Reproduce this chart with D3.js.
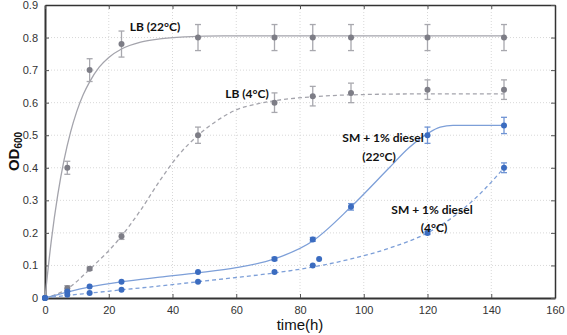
<!DOCTYPE html>
<html>
<head>
<meta charset="utf-8">
<script src="https://cdn.jsdelivr.net/npm/d3@7"></script>
<style>
  body { margin: 0; background: #fff; }
  text { font-family: "Liberation Sans", Arial, sans-serif; }
  text.note { font-family: Lato, "Open Sans", sans-serif; font-weight: bold; }
</style>
</head>
<body>
<div class="chart"></div>
<script>
// measured points (time in h, OD600)
var times = [0, 7, 14, 24, 48, 72, 84, 96, 120, 144];
var lb22 = [0, 0.40, 0.70, 0.78, 0.80, 0.80, 0.80, 0.80, 0.80, 0.80];
var lb22Err = [0, 0.02, 0.035, 0.04, 0.04, 0.04, 0.04, 0.04, 0.04, 0.04];
var lb4 = [0, 0.03, 0.09, 0.19, 0.50, 0.60, 0.62, 0.63, 0.64, 0.64];
var lb4Err = [0, 0.008, 0.005, 0.01, 0.025, 0.03, 0.03, 0.03, 0.03, 0.03];
var sm22 = [0, 0.02, 0.035, 0.05, 0.08, 0.12, 0.18, 0.28, 0.50, 0.53];
var sm22Err = [0, 0.004, 0.003, 0.003, 0.003, 0.005, 0.006, 0.01, 0.025, 0.025];
var sm4Times = [0, 7, 14, 24, 48, 72, 84, 86, 120, 144];
var sm4 = [0, 0.01, 0.015, 0.025, 0.05, 0.08, 0.10, 0.12, 0.20, 0.40];
var sm4Err = [0, 0.003, 0.003, 0.003, 0.003, 0.003, 0.003, 0.003, 0.005, 0.015];

// fitted curves
var fitLb22T = [0, 2, 4, 6, 8, 10, 12, 14, 17, 20, 24, 30, 36, 44, 56, 80, 144];
var fitLb22 = [0, 0.178, 0.317, 0.425, 0.509, 0.574, 0.625, 0.664, 0.709, 0.739, 0.765, 0.786, 0.796, 0.802, 0.805, 0.805, 0.805];
var fitLb4T = [0, 7, 14, 24, 30, 36, 42, 48, 54, 60, 66, 72, 84, 96, 120, 144];
var fitLb4 = [0, 0.028, 0.088, 0.19, 0.27, 0.36, 0.44, 0.50, 0.545, 0.578, 0.595, 0.606, 0.618, 0.624, 0.627, 0.627];
var fitSm22T = [0, 7, 14, 24, 36, 48, 60, 72, 84, 96, 108, 114, 120, 124, 128, 144];
var fitSm22 = [0, 0.018, 0.034, 0.05, 0.064, 0.077, 0.093, 0.12, 0.175, 0.28, 0.40, 0.46, 0.505, 0.525, 0.53, 0.53];
var fitSm4T = [0, 7, 14, 24, 36, 48, 60, 72, 84, 96, 108, 120, 126, 132, 138, 144];
var fitSm4 = [0, 0.008, 0.015, 0.025, 0.037, 0.05, 0.063, 0.077, 0.095, 0.12, 0.153, 0.20, 0.235, 0.28, 0.335, 0.40];

var xTicks = [0, 20, 40, 60, 80, 100, 120, 140, 160];
var yTicks = [0, 0.1, 0.2, 0.3, 0.4, 0.5, 0.6, 0.7, 0.8, 0.9];

var W = 567, H = 335;
var m = {left: 45, right: 12, top: 5, bottom: 37};

var svg = d3.select(".chart").append("svg")
    .attr("width", W)
    .attr("height", H);

var x = d3.scaleLinear().domain([0, 160]).range([m.left, W - m.right]);
var y = d3.scaleLinear().domain([0, 0.9]).range([H - m.bottom, m.top]);

// grid
svg.append("g").selectAll("line").data(xTicks.slice(1, -1)).enter().append("line")
    .attr("x1", function(d) { return x(d); }).attr("x2", function(d) { return x(d); })
    .attr("y1", y(0)).attr("y2", y(0.9))
    .attr("stroke", "#d8d8d8").attr("stroke-dasharray", "1,2");
svg.append("g").selectAll("line").data(yTicks.slice(1, -1)).enter().append("line")
    .attr("y1", function(d) { return y(d); }).attr("y2", function(d) { return y(d); })
    .attr("x1", x(0)).attr("x2", x(160))
    .attr("stroke", "#d8d8d8").attr("stroke-dasharray", "1,2");

// axes (inward ticks)
var fmtY = function(d) { return d === 0 ? "0" : d3.format(".1f")(d); };
var axBottom = svg.append("g").attr("transform", "translate(0," + y(0) + ")")
    .call(d3.axisBottom(x).tickValues(xTicks).tickSizeInner(-4).tickSizeOuter(0).tickPadding(8));
var axLeft = svg.append("g").attr("transform", "translate(" + x(0) + ",0)")
    .call(d3.axisLeft(y).tickValues(yTicks).tickFormat(fmtY).tickSizeInner(-4).tickSizeOuter(0).tickPadding(7));
var axTop = svg.append("g").attr("transform", "translate(0," + y(0.9) + ")")
    .call(d3.axisTop(x).tickValues(xTicks).tickSizeInner(-4).tickSizeOuter(0).tickFormat(""));
var axRight = svg.append("g").attr("transform", "translate(" + x(160) + ",0)")
    .call(d3.axisRight(y).tickValues(yTicks).tickSizeInner(-4).tickSizeOuter(0).tickFormat(""));

[axBottom, axLeft].forEach(function(g) {
  g.select(".domain").attr("stroke", "#333").attr("stroke-width", 2);
});
[axTop, axRight].forEach(function(g) {
  g.select(".domain").attr("stroke", "#333").attr("stroke-width", 1.5);
});
svg.selectAll(".tick line").attr("stroke", "#555");
svg.selectAll(".tick text").attr("font-size", 11).attr("fill", "#333");

// axis titles
svg.append("text").attr("x", x(80)).attr("y", 330)
    .attr("text-anchor", "middle").attr("font-size", 15).attr("fill", "#111")
    .text("time(h)");
var od = svg.append("text")
    .attr("transform", "translate(19," + y(0.45) + ") rotate(-90)")
    .attr("text-anchor", "middle").attr("font-size", 15).attr("font-weight", "bold").attr("fill", "#111");
od.append("tspan").text("OD");
od.append("tspan").attr("font-size", 10).attr("dy", 3).text("600");

// series
var line = d3.line()
    .x(function(d) { return x(d[0]); })
    .y(function(d) { return y(d[1]); })
    .curve(d3.curveMonotoneX);

function drawSeries(fitT, fitV, pT, pV, pE, lineCol, dotCol, errCol, dashed) {
  var g = svg.append("g");
  g.append("path")
      .datum(d3.zip(fitT, fitV))
      .attr("d", line)
      .attr("fill", "none")
      .attr("stroke", lineCol)
      .attr("stroke-width", 1.3)
      .attr("stroke-dasharray", dashed ? "4,3" : null);
  var pts = d3.zip(pT, pV, pE);
  var e = g.selectAll(".err").data(pts.filter(function(d) { return d[2] > 0.004; })).enter().append("g");
  e.append("line")
      .attr("x1", function(d) { return x(d[0]); }).attr("x2", function(d) { return x(d[0]); })
      .attr("y1", function(d) { return y(d[1] - d[2]); }).attr("y2", function(d) { return y(d[1] + d[2]); })
      .attr("stroke", errCol).attr("stroke-width", 1.3);
  [-1, 1].forEach(function(s) {
    e.append("line")
        .attr("x1", function(d) { return x(d[0]) - 3; }).attr("x2", function(d) { return x(d[0]) + 3; })
        .attr("y1", function(d) { return y(d[1] + s * d[2]); }).attr("y2", function(d) { return y(d[1] + s * d[2]); })
        .attr("stroke", errCol).attr("stroke-width", 1.3);
  });
  g.selectAll("circle").data(pts).enter().append("circle")
      .attr("cx", function(d) { return x(d[0]); })
      .attr("cy", function(d) { return y(d[1]); })
      .attr("r", 3)
      .attr("fill", dotCol);
}

drawSeries(fitLb22T, fitLb22, times, lb22, lb22Err, "#a4a4ac", "#7d7d86", "#a8a8ae", false);
drawSeries(fitLb4T, fitLb4, times, lb4, lb4Err, "#a4a4ac", "#7d7d86", "#a8a8ae", true);
drawSeries(fitSm22T, fitSm22, times, sm22, sm22Err, "#7d9fd8", "#3b6cc0", "#6f94d4", false);
drawSeries(fitSm4T, fitSm4, sm4Times, sm4, sm4Err, "#7d9fd8", "#3b6cc0", "#6f94d4", true);

// labels
var labels = [
  {t: "LB (22°C)", x: 155, y: 31},
  {t: "LB (4°C)", x: 247, y: 98},
  {t: "SM + 1% diesel", x: 383, y: 142},
  {t: "(22°C)", x: 379, y: 161},
  {t: "SM + 1% diesel", x: 432, y: 214},
  {t: "(4°C)", x: 434, y: 232}
];
svg.append("g").selectAll("text").data(labels).enter().append("text")
    .attr("class", "note")
    .attr("x", function(d) { return d.x; })
    .attr("y", function(d) { return d.y; })
    .attr("text-anchor", "middle")
    .attr("font-size", 12)
    .attr("fill", "#111")
    .text(function(d) { return d.t; });
</script>
</body>
</html>
